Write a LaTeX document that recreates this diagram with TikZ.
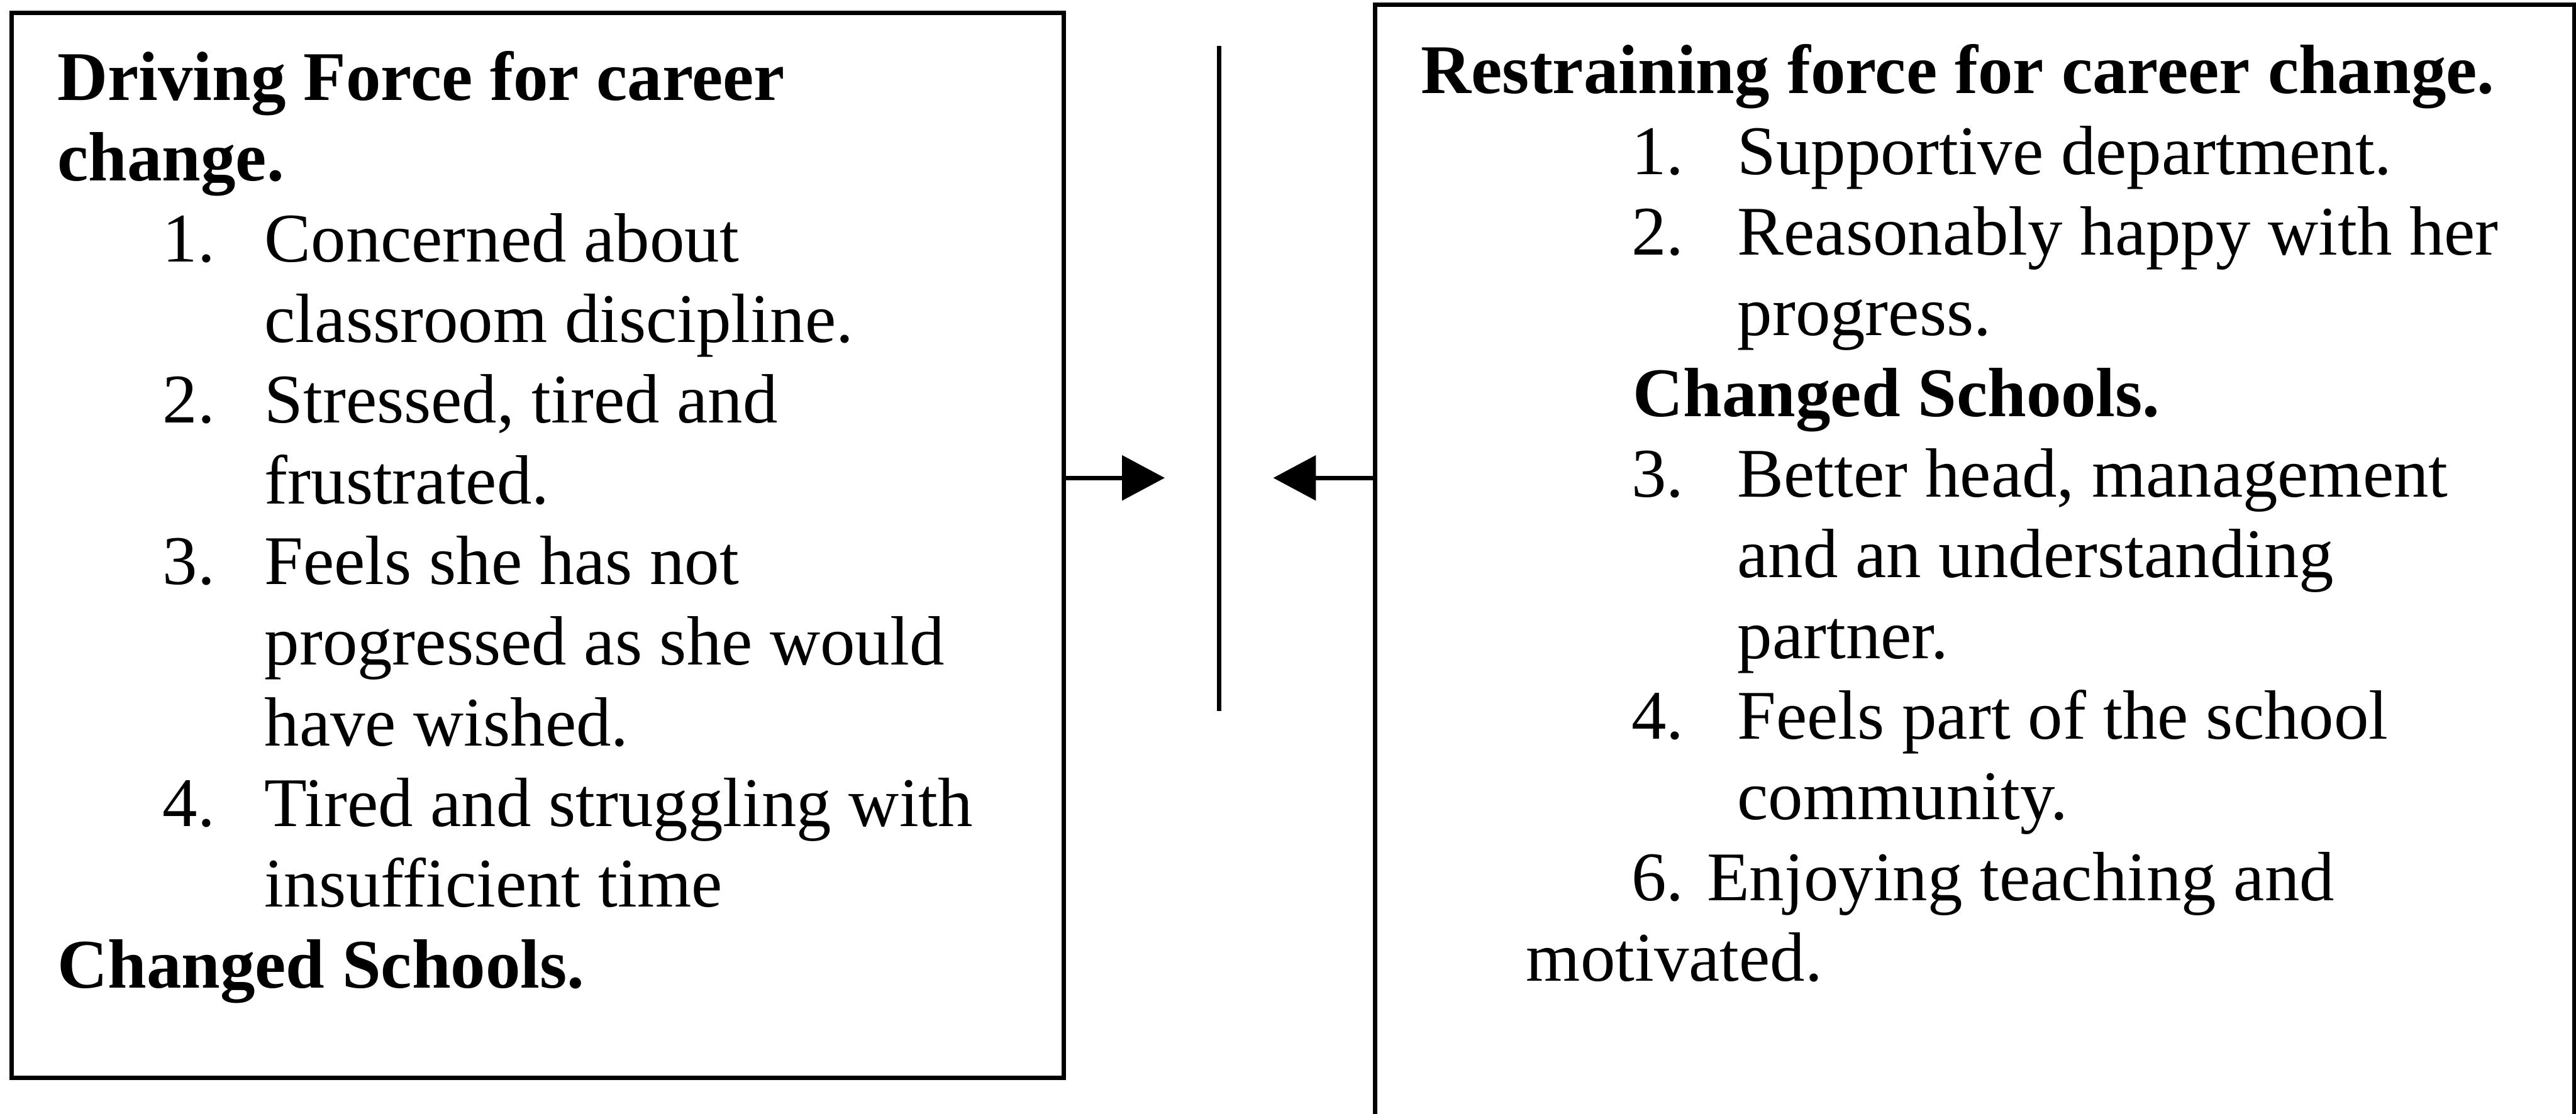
\documentclass[tikz,border=0pt]{standalone}
\usepackage{fontspec}
\setmainfont{Liberation Serif}
\usetikzlibrary{arrows.meta}
\newcommand{\litm}[2]{\hspace*{0.64cm}\makebox[0.62cm][l]{#1}#2}
\newcommand{\lcont}[1]{\hspace*{1.26cm}#1}
\newcommand{\ritm}[2]{\hspace*{1.28cm}\makebox[0.645cm][l]{#1}#2}
\newcommand{\rcont}[1]{\hspace*{1.925cm}#1}
\newcommand{\txtfont}{\fontsize{12.07pt}{13.97pt}\selectfont}
\begin{document}
\begin{tikzpicture}[x=0.01cm,y=-0.01cm,
  box/.style={draw=black,line width=0.75pt,inner sep=0pt,outer sep=0pt,anchor=north west},
  txt/.style={anchor=base west,inner sep=0pt,outer sep=0pt},
  conn/.style={line width=0.8pt,-{Triangle[length=0.26cm,width=0.27cm]}},
  barline/.style={line width=0.75pt}]
\useasboundingbox (0,0) rectangle (1568,678);
\fill[white] (0,0) rectangle (1568,678);
% left box
\node (L) [box,minimum width=6.40cm,minimum height=6.48cm] at (7,8) {};
% right box (runs past the bottom edge)
\begin{scope}
\clip (0,0) rectangle (1568,678);
\node (R) [box,minimum width=7.296cm,minimum height=7.3cm] at (837,3) {};
\end{scope}
% middle bar
\coordinate (MT) at (742,28);
\coordinate (MB) at (742,433);
\draw[barline] (MT) -- (MB);
% arrows
\coordinate (LT) at (709,291);
\coordinate (RT) at (775,291);
\draw[conn] (L.east |- LT) -- (LT);
\draw[conn] (R.west |- RT) -- (RT);
% left text
\node (Ltxt) [txt] at (35,61) {\parbox[t]{6.1cm}{\txtfont
\textbf{Driving Force for career}\\
\textbf{change.}\\
\litm{1.}{Concerned about}\\
\lcont{classroom discipline.}\\
\litm{2.}{Stressed, tired and}\\
\lcont{frustrated.}\\
\litm{3.}{Feels she has not}\\
\lcont{progressed as she would}\\
\lcont{have wished.}\\
\litm{4.}{Tired and struggling with}\\
\lcont{insufficient time}\\
\textbf{Changed Schools.}}};
% right text
\node (Rtxt) [txt] at (865,57) {\parbox[t]{6.9cm}{\txtfont
\makebox[6.53cm][s]{\textbf{Restraining force for career change.}}\\
\ritm{1.}{Supportive department.}\\
\ritm{2.}{Reasonably happy with her}\\
\rcont{progress.}\\
\hspace*{1.29cm}\textbf{Changed Schools.}\\
\ritm{3.}{Better head, management}\\
\rcont{and an understanding}\\
\rcont{partner.}\\
\ritm{4.}{Feels part of the school}\\
\rcont{community.}\\
\hspace*{1.28cm}6. Enjoying teaching and\\
\hspace*{0.64cm}motivated.}};
\end{tikzpicture}
\end{document}
